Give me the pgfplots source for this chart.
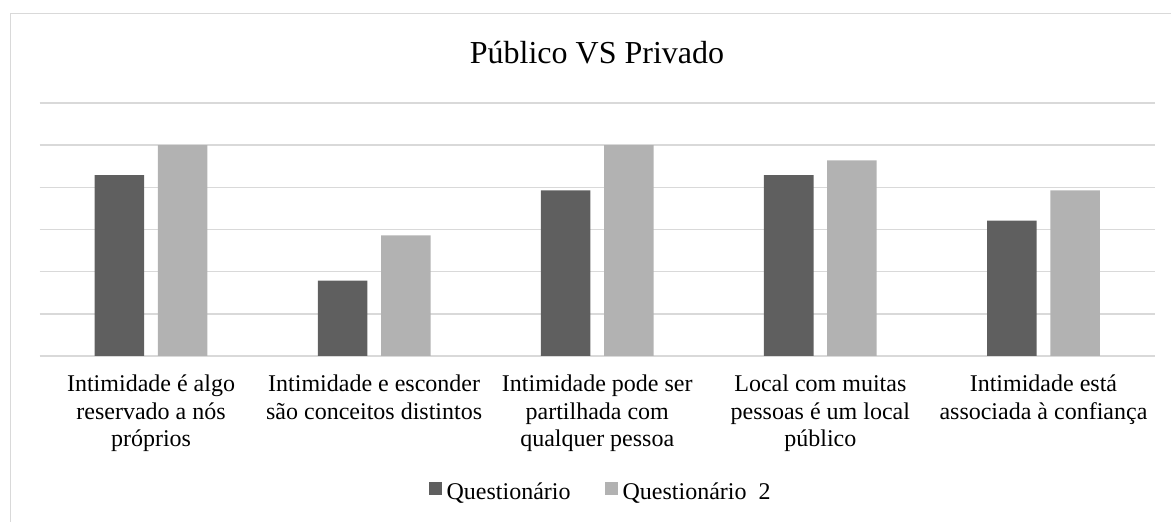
\documentclass[border=0pt]{standalone}
\usepackage{fontspec}
\setmainfont{Liberation Serif}
\usepackage{pgfplots}
\pgfplotsset{compat=1.18}
\definecolor{darkbar}{HTML}{5F5F5F}
\definecolor{lightbar}{HTML}{B2B2B2}
\definecolor{gridgray}{HTML}{D9D9D9}
\begin{document}
\begin{tikzpicture}[x=1pt,y=1pt]
\useasboundingbox (0,0) rectangle (1171,522);
\draw[color=gridgray, line width=1.5pt] (10.5,-30) rectangle (1220,508.5);
\begin{axis}[
  at={(39.5pt,166pt)}, anchor=south west,
  scale only axis, width=1115.5pt, height=253pt,
  ymin=0, ymax=6, xmin=-0.5, xmax=4.5,
  ybar, bar width=0.222,
  xtick={0,1,2,3,4},
  xticklabels={{Intimidade é algo\\reservado a nós\\próprios},
               {Intimidade e esconder\\são conceitos distintos},
               {Intimidade pode ser\\partilhada com\\qualquer pessoa},
               {Local com muitas\\pessoas é um local\\público},
               {Intimidade está\\associada à confiança}},
  x tick label style={align=center, font=\fontsize{24}{27.6}\selectfont, yshift=-11pt},
  ytick={0,1,2,3,4,5,6}, yticklabels={},
  ymajorgrids, major grid style={color=gridgray, line width=1.5pt},
  axis line style={draw=none}, tick style={draw=none},
  legend columns=2,
  legend style={at={(0.503,-0.536)}, anchor=center, draw=none, fill=none,
    font=\fontsize{24}{27.6}\selectfont,
    /tikz/every odd column/.append style={column sep=3pt},
    /tikz/every even column/.append style={column sep=32pt},
    inner sep=0pt},
  legend image code/.code={\fill[#1] (0pt,-3pt) rectangle (13pt,10pt);},
  legend cell align=left,
]
\addplot[fill=darkbar, draw=none, bar shift=-0.1417] coordinates {(0,4.29) (1,1.79) (2,3.93) (3,4.29) (4,3.21)};
\addplot[fill=lightbar, draw=none, bar shift=0.1417] coordinates {(0,5.00) (1,2.86) (2,5.00) (3,4.64) (4,3.93)};
\legend{Questionário, Questionário\ \ 2}
\end{axis}
\node[anchor=base, font=\fontsize{32}{38}\selectfont] at (597,458.7) {Público VS Privado};
\end{tikzpicture}
\end{document}
